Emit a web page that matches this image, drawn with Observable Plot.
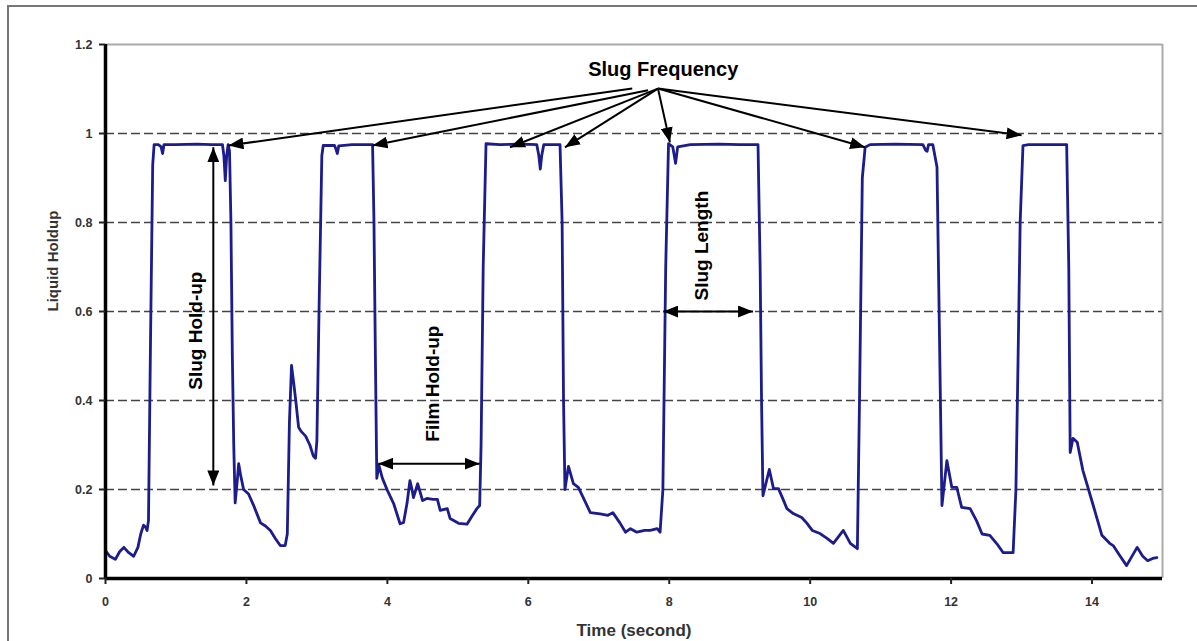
<!DOCTYPE html>
<html><head><meta charset="utf-8">
<script src="https://cdn.jsdelivr.net/npm/d3@7"></script>
<script src="https://cdn.jsdelivr.net/npm/@observablehq/plot@0.6"></script>
<style>
html,body{margin:0;padding:0;background:#fff;}
#wrap{position:relative;width:1197px;height:641px;overflow:hidden;}
#border{position:absolute;left:7px;top:5px;width:1300px;height:800px;border-left:2px solid #777;border-top:2px solid #777;pointer-events:none;}
</style></head><body><div id="wrap"></div>
<script>
// ---- data ----
const time = [
  0.00,0.06,0.14,0.20,0.26,0.33,0.40,0.46,0.50,0.54,0.57,0.59,0.61,0.64,0.67,0.69,
  0.75,0.79,0.81,0.83,1.00,1.30,1.50,1.66,1.68,1.70,1.72,1.74,1.76,
  1.78,1.80,1.82,1.84,1.87,1.89,1.92,1.96,2.03,2.10,2.20,2.27,2.34,2.41,2.48,2.55,
  2.58,2.61,2.64,2.67,2.70,2.74,2.78,2.84,2.90,2.95,2.98,3.00,3.03,3.07,3.09,
  3.25,3.27,3.29,3.31,3.50,3.79,3.81,3.83,3.85,3.88,3.93,4.00,4.09,4.18,4.23,4.28,
  4.32,4.35,4.37,4.43,4.50,4.56,4.65,4.71,4.75,4.85,4.89,5.01,5.13,5.20,5.27,5.31,
  5.33,5.36,5.40,5.60,5.90,6.12,6.15,6.17,6.19,6.22,6.45,6.48,6.50,6.52,6.57,6.64,
  6.71,6.80,6.88,7.02,7.13,7.20,7.30,7.38,7.45,7.54,7.65,7.73,7.83,7.87,7.91,7.95,
  7.99,8.05,8.09,8.12,8.30,8.70,9.00,9.26,9.29,9.31,9.33,9.42,9.48,9.55,9.61,9.67,
  9.76,9.88,9.95,10.03,10.14,10.24,10.33,10.47,10.57,10.67,10.70,10.74,10.78,10.85,
  11.20,11.60,11.64,11.66,11.68,11.74,11.77,11.80,11.83,11.87,11.94,12.01,12.08,
  12.15,12.27,12.36,12.44,12.55,12.65,12.74,12.88,12.92,12.95,12.98,13.02,13.10,
  13.40,13.64,13.67,13.69,13.73,13.79,13.87,14.01,14.14,14.25,14.30,14.40,14.49,
  14.64,14.72,14.79,14.86,14.92
];
const holdup = [
  0.063,0.050,0.043,0.060,0.070,0.058,0.050,0.070,0.100,0.120,0.115,0.108,0.130,0.550,0.930,0.975,
  0.975,0.970,0.955,0.975,0.975,0.976,0.975,0.975,0.950,0.894,0.950,0.975,0.960,
  0.800,0.500,0.300,0.170,0.220,0.258,0.230,0.200,0.190,0.165,0.125,0.118,0.108,0.090,0.074,0.074,
  0.100,0.350,0.479,0.440,0.400,0.340,0.330,0.320,0.300,0.275,0.270,0.310,0.600,0.950,0.973,
  0.973,0.965,0.955,0.972,0.975,0.975,0.800,0.500,0.225,0.254,0.225,0.198,0.168,0.123,0.126,0.170,
  0.220,0.200,0.182,0.213,0.175,0.180,0.178,0.178,0.153,0.157,0.135,0.124,0.122,0.140,0.157,0.164,
  0.300,0.700,0.977,0.975,0.976,0.975,0.950,0.920,0.950,0.975,0.975,0.800,0.400,0.200,0.252,0.213,
  0.205,0.175,0.148,0.145,0.142,0.148,0.125,0.104,0.112,0.104,0.108,0.108,0.112,0.104,0.200,0.700,
  0.977,0.970,0.933,0.970,0.975,0.976,0.975,0.975,0.700,0.400,0.186,0.245,0.202,0.202,0.180,0.157,
  0.146,0.137,0.125,0.108,0.101,0.090,0.079,0.108,0.079,0.067,0.400,0.900,0.969,0.975,
  0.976,0.975,0.962,0.960,0.975,0.975,0.950,0.924,0.600,0.164,0.265,0.205,0.205,
  0.160,0.157,0.130,0.100,0.097,0.078,0.058,0.058,0.200,0.490,0.800,0.973,0.975,
  0.975,0.975,0.700,0.283,0.315,0.306,0.243,0.168,0.097,0.079,0.074,0.050,0.029,
  0.070,0.050,0.040,0.045,0.047
];
const xTicks = [0, 2, 4, 6, 8, 10, 12, 14];
const yTicks = [0, 0.2, 0.4, 0.6, 0.8, 1.0, 1.2];
const yTickLabels = ["0", "0.2", "0.4", "0.6", "0.8", "1", "1.2"];
const gridLevels = [0.2, 0.4, 0.6, 0.8, 1.0];

// "Slug Frequency" arrows: from (t1,h1) to (t2,h2)
const freqFromT = [7.475, 7.70, 7.84, 7.84, 7.84, 7.84, 7.84];
const freqFromH = [1.101, 1.097, 1.101, 1.101, 1.101, 1.101, 1.101];
const freqToT   = [1.745, 3.79, 5.74, 6.52, 8.01, 10.78, 13.00];
const freqToH   = [0.973, 0.973, 0.969, 0.969, 0.980, 0.969, 0.996];

// double-headed arrows
const dblNames = ["Slug Hold-up", "Film Hold-up", "Slug Length"];
const dblFromT = [1.53, 3.87, 7.915];
const dblFromH = [0.969, 0.258, 0.600];
const dblToT   = [1.53, 5.31, 9.19];
const dblToH   = [0.209, 0.258, 0.600];

// annotation labels
const labelText = ["Slug Hold-up", "Film Hold-up", "Slug Length"];
const labelT = [1.277, 4.64, 8.47];
const labelH = [0.557, 0.438, 0.748];
const titleText = ["Slug Frequency"];
const titleT = [7.915];
const titleH = [1.144];

const xLabel = "Time (second)";
const yLabel = "Liquid Holdup";

// ---- build ----
const data = time.map((t, i) => ({t, h: holdup[i]}));
const freq = freqToT.map((t, i) => ({x1: freqFromT[i], y1: freqFromH[i], x2: t, y2: freqToH[i]}));
const dbl = dblNames.map((n, i) => ({x1: dblFromT[i], y1: dblFromH[i], x2: dblToT[i], y2: dblToH[i]}));
const labels = labelText.map((s, i) => ({s, t: labelT[i], h: labelH[i]}));
const titles = titleText.map((s, i) => ({s, t: titleT[i], h: titleH[i]}));

const FONT = "'Liberation Sans', Arial, Helvetica, sans-serif";

const chart = Plot.plot({
  width: 1197,
  height: 641,
  marginLeft: 105,
  marginRight: 35,
  marginTop: 44,
  marginBottom: 63,
  style: {fontFamily: FONT, background: "white", overflow: "visible"},
  x: {domain: [0, 15]},
  y: {domain: [0, 1.2]},
  marks: [
    Plot.ruleY(gridLevels, {stroke: "#444", strokeWidth: 1.7, strokeDasharray: "9,4"}),
    Plot.ruleY([1.2], {stroke: "#aaaaaa", strokeWidth: 2}),
    Plot.ruleX([15], {stroke: "#aaaaaa", strokeWidth: 2}),
    Plot.line(data, {x: "t", y: "h", stroke: "#1c1c8c", strokeWidth: 2.8, strokeLinejoin: "round"}),
    Plot.ruleX([0], {stroke: "#000", strokeWidth: 3.5}),
    Plot.ruleY([0], {x1: 0, x2: 15, stroke: "#000", strokeWidth: 3.5}),
    Plot.axisY({ticks: yTicks, tickFormat: d => yTickLabels[yTicks.indexOf(d)] ?? "", tickSize: 6, tickPadding: 7,
      stroke: "#222", strokeWidth: 2, fill: "#333", fontSize: 12.5, fontWeight: "bold", label: null}),
    Plot.axisX({ticks: xTicks, tickSize: 6, tickPadding: 13,
      stroke: "#222", strokeWidth: 2, fill: "#333", fontSize: 12.5, fontWeight: "bold", label: null}),
    Plot.text([xLabel], {frameAnchor: "bottom", lineAnchor: "middle", dy: 52, fontSize: 17, fontWeight: "bold", fill: "#333"}),
    Plot.text([yLabel], {frameAnchor: "left", lineAnchor: "middle", dx: -52, rotate: -90, fontSize: 15, fontWeight: "bold", fill: "#333"}),
    Plot.link(freq, {x1: "x1", y1: "y1", x2: "x2", y2: "y2", stroke: "#000", strokeWidth: 2, markerEnd: "arrow"}),
    Plot.link(dbl, {x1: "x1", y1: "y1", x2: "x2", y2: "y2", stroke: "#000", strokeWidth: 2, markerStart: "arrow-reverse", markerEnd: "arrow"}),
    Plot.text(labels, {x: "t", y: "h", text: "s", rotate: -90, fontSize: 19, fontWeight: "bold", fill: "#000"}),
    Plot.text(titles, {x: "t", y: "h", text: "s", fontSize: 20, fontWeight: "bold", fill: "#000"})
  ]
});

// restyle Plot's own arrow markers as filled triangles
chart.querySelectorAll("marker").forEach(m => {
  m.setAttribute("viewBox", "-15 -6 15 12");
  m.setAttribute("markerWidth", "15");
  m.setAttribute("markerHeight", "12");
  m.setAttribute("markerUnits", "userSpaceOnUse");
  m.setAttribute("refX", "0");
  m.setAttribute("refY", "0");
  m.setAttribute("fill", "#000");
  m.setAttribute("stroke", "none");
  m.innerHTML = "";
  const p = document.createElementNS("http://www.w3.org/2000/svg", "path");
  p.setAttribute("d", "M-15,-6L0,0L-15,6Z");
  p.setAttribute("fill", "#000");
  p.setAttribute("stroke", "none");
  m.appendChild(p);
});

const wrap = document.getElementById("wrap");
wrap.appendChild(chart);
const border = document.createElement("div");
border.id = "border";
wrap.appendChild(border);
</script></body></html>
